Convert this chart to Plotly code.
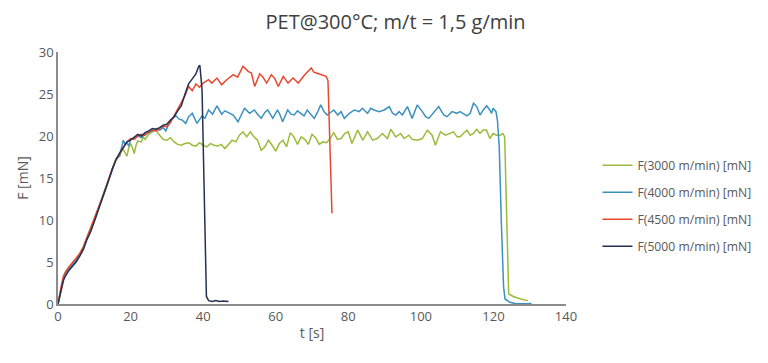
import plotly.graph_objects as go

# ---- data ----
t_3000 = [0, 0.5, 1, 1.5, 2, 3, 4, 5, 6, 7, 8, 9, 10, 11, 12, 13, 14, 15, 16,
          17, 17.5, 18, 18.5, 19, 19.5, 20, 20.5, 21, 21.5, 22, 23, 23.5, 24, 25, 26, 27, 28, 29, 30,
          31, 32, 33, 34, 35, 36, 37, 38, 39, 40, 41, 42, 43, 44, 45, 46, 47, 48, 49, 50,
          51, 52, 53, 54, 55, 56, 57, 58, 59, 60, 61, 62, 63, 64, 65, 66, 67, 68, 69, 70,
          71, 72, 73, 74, 75, 76, 77, 78, 79, 80, 81, 82, 82.6, 84, 85.3, 86.7, 88, 89.4, 90.8,
          91.7, 93.1, 94.4, 95.4, 96.7, 97.6, 99, 100.4, 101.8, 103.1, 104, 105.4, 106.8, 108.1,
          109, 110, 110.8, 111.7, 112.7, 113.6, 114.5, 115.4, 116.3, 117.2, 118.1, 119, 119.9,
          120.9, 121.8, 122.6, 123.1, 124.2, 125.5, 127.5, 129.5]
F_3000 = [0, 1.1, 2.2, 3.1, 3.6, 4.2, 4.8, 5.3, 6.0, 6.8, 7.9, 8.9, 10.1, 11.3, 12.5, 13.7, 14.9, 16.2, 17.3,
          17.6, 18.2, 18.4, 17.9, 17.6, 18.6, 19.1, 18.6, 17.9, 18.9, 19.4, 19.3, 19.9, 19.6, 20.2, 20.5, 20.7, 20.1, 19.6, 19.5,
          19.8, 19.3, 19.0, 18.9, 19.1, 19.2, 18.9, 18.8, 19.2, 18.9, 18.7, 19.1, 18.9, 18.8, 19.0, 18.5, 19.0, 19.5, 19.3, 20.1,
          20.5, 19.9, 20.5, 19.9, 19.5, 18.3, 18.7, 19.5, 18.9, 18.2, 19.1, 19.5, 18.7, 20.4, 19.9, 19.0, 19.9, 19.6, 19.0, 20.2,
          19.8, 19.0, 19.3, 19.2, 19.7, 20.4, 19.6, 19.7, 20.3, 20.5, 19.1, 20.0, 20.7, 19.5, 20.5, 19.5, 19.7, 20.3, 19.7,
          20.8, 19.9, 20.3, 19.7, 20.1, 19.6, 19.5, 19.7, 20.7, 20.1, 18.9, 20.5, 20.1, 20.3,
          20.5, 19.9, 19.9, 20.3, 20.7, 20.1, 20.3, 20.8, 20.3, 20.7, 20.7, 19.7, 20.3,
          20.1, 20.1, 20.3, 19.9, 1.2, 0.9, 0.6, 0.4]

t_4000 = [0, 0.5, 1, 1.5, 2, 3, 4, 5, 6, 7, 8, 9, 10, 11, 12, 13, 14, 15, 16,
          17, 17.5, 18, 18.5, 19, 19.5, 20, 21, 22, 23, 24, 25, 26, 27, 28, 29, 29.7, 30.5, 31.5, 32.5,
          33.4, 34.2, 35.2, 36, 37, 38.3, 39.7, 40.5, 41.5, 42.6, 43.8, 45.1, 46, 46.9, 48.3, 49.6,
          50.5, 51.4, 52.8, 54.1, 55, 56, 57, 57.8, 59.2, 60.5, 61.2, 61.9, 63.3, 64.2, 65.1, 66,
          66.9, 67.8, 68.7, 70.6, 71.5, 72.4, 73.3, 74.2, 75.1, 76, 77.1, 78, 78.9, 80.3, 81.7, 83,
          83.9, 85.3, 86.2, 87.1, 88.5, 89.9, 91.3, 92.2, 93.1, 94, 94.9, 96.3, 97.6, 99, 100.4,
          101.3, 102.2, 103.6, 104.9, 106.3, 107.2, 108.6, 109.9, 110.8, 111.7, 112.7, 113.6,
          114.5, 115.4, 116.3, 117.2, 118.1, 119, 119.5, 119.9, 120.7, 121.1, 121.6, 122.2, 122.8,
          123.2, 124.5, 126, 127.3, 129, 130.5]
F_4000 = [0, 1.0, 2.1, 3.0, 3.6, 4.2, 4.7, 5.2, 5.9, 6.7, 7.8, 8.8, 10.0, 11.2, 12.4, 13.6, 14.8, 16.1, 17.2,
          17.7, 18.6, 19.5, 19.0, 19.2, 18.8, 19.6, 19.8, 20.0, 19.8, 20.2, 20.4, 20.6, 20.8, 20.7, 21.0, 20.6, 21.4, 22.1, 22.4,
          22.0, 21.9, 21.5, 22.3, 22.7, 21.5, 22.4, 22.1, 23.1, 22.6, 23.6, 22.6, 23.0, 22.8, 22.5, 21.7,
          22.6, 23.3, 22.7, 23.1, 22.6, 22.1, 22.8, 23.1, 22.1, 23.1, 22.5, 21.7, 23.1, 22.6, 22.5, 23.0,
          22.7, 22.4, 23.1, 22.1, 22.8, 23.7, 22.9, 22.5, 22.8, 23.1, 22.5, 22.9, 22.1, 22.7, 23.1, 22.9,
          23.3, 22.7, 23.3, 23.1, 22.9, 23.1, 23.5, 22.7, 22.5, 22.9, 22.5, 23.5, 22.1, 23.7, 22.9,
          22.3, 22.1, 22.9, 23.5, 22.5, 22.3, 22.9, 22.7, 22.9, 22.7, 22.4, 22.7,
          23.9, 23.5, 22.5, 23.1, 23.6, 23.1, 22.7, 23.3, 22.9, 21.9, 18.7, 9.5, 2.0,
          0.6, 0.2, 0.05, 0.0, 0.02, 0.05]

t_4500 = [0, 0.5, 1, 1.5, 2, 3, 4, 5, 6, 7, 8, 9, 10, 11, 12, 13, 14, 15, 16,
          17, 18, 19, 20, 21, 22, 23, 24, 25, 26, 27, 28, 29, 30, 31, 32, 33, 34, 35, 36, 37, 38, 39, 40,
          41.5, 42.4, 43.8, 45.1, 46.5, 48.3, 49.5, 51, 52.4, 53.3, 54.2, 55.6, 56.5, 57.5, 58.8, 59.8,
          60.7, 62.1, 63.4, 64.8, 66.2, 67.1, 68, 69.8, 70.5, 71.2, 72.5, 73.9, 74.4, 75.5]
F_4500 = [0, 1.3, 2.4, 3.3, 3.8, 4.4, 4.9, 5.4, 6.0, 6.8, 7.9, 8.9, 10.0, 11.2, 12.4, 13.6, 14.9, 16.2, 17.2,
          17.9, 18.7, 19.3, 19.7, 19.6, 20.0, 20.2, 20.1, 20.5, 20.7, 20.6, 20.9, 21.2, 21.1, 21.6, 22.4, 23.3, 24.0, 24.8, 25.9, 25.4, 26.2, 25.8, 26.3,
          26.7, 26.3, 26.9, 26.1, 26.7, 27.3, 27.0, 28.3, 27.7, 27.5, 25.9, 27.4, 27.0, 26.3, 27.3, 26.8,
          25.9, 27.1, 26.3, 26.9, 26.3, 26.8, 27.3, 28.1, 27.6, 27.5, 27.3, 27.1, 26.6, 10.8]

t_5000 = [0, 0.5, 1, 1.5, 2, 3, 4, 5, 6, 7, 8, 9, 10, 11, 12, 13, 14, 15, 16,
          17, 18, 19, 20, 21, 22, 23, 24, 25, 26, 27, 28, 29, 30, 31, 32, 33, 34, 35, 36, 37, 38,
          38.8, 39.1, 39.7, 40.4, 40.9, 41.5, 42.5, 43.5, 44.5, 45.5, 46.5, 47]
F_5000 = [0, 0.9, 1.9, 2.8, 3.3, 4.0, 4.5, 5.0, 5.7, 6.5, 7.7, 8.6, 9.8, 11.0, 12.3, 13.5, 14.8, 16.1, 17.2,
          18.0, 18.6, 19.3, 19.5, 19.9, 20.2, 20.0, 20.4, 20.6, 20.9, 20.8, 21.0, 21.3, 21.4, 21.9, 22.3, 23.0, 23.6, 25.0, 26.2, 26.8, 27.4,
          28.3, 28.4, 25.5, 9.2, 0.9, 0.4, 0.3, 0.4, 0.3, 0.35, 0.3, 0.3]

series = [
    ("F(3000 m/min) [mN]", t_3000, F_3000, "#9BBB3C"),
    ("F(4000 m/min) [mN]", t_4000, F_4000, "#3C91BE"),
    ("F(4500 m/min) [mN]", t_4500, F_4500, "#E8472F"),
    ("F(5000 m/min) [mN]", t_5000, F_5000, "#243152"),
]

title_text = "PET@300°C; m/t = 1,5 g/min"
x_title = "t [s]"
y_title = "F [mN]"
x_ticks = [0, 20, 40, 60, 80, 100, 120, 140]
y_ticks = [0, 5, 10, 15, 20, 25, 30]

fig = go.Figure()
for i, (name, t, f, col) in enumerate(series):
    fig.add_trace(go.Scatter(x=t, y=f, mode="lines", name=name,
                             legendgroup="g%d" % i,
                             line=dict(color=col, width=1.5)))

font_family = "Open Sans"
fig.update_layout(
    width=760, height=355,
    paper_bgcolor="white", plot_bgcolor="white",
    margin=dict(l=50, r=198, t=44, b=59),
    title=dict(text=title_text, x=0.51, xanchor="center", y=0.962, yanchor="middle",
               font=dict(family=font_family, size=20, color="#404040")),
    font=dict(family=font_family, size=12, color="#595959"),
    showlegend=True,
    legend=dict(x=1.062, xanchor="left", y=0.39, yanchor="middle",
                font=dict(family=font_family, size=12.2, color="#595959"),
                traceorder="grouped", tracegroupgap=8,
                itemwidth=30, bgcolor="rgba(0,0,0,0)"),
    xaxis=dict(range=[0, 140], tickvals=x_ticks, showgrid=False, zeroline=False,
               showline=True, linecolor="#8C8C8C", linewidth=1.5, ticks="",
               automargin=False,
               title=dict(text=x_title, standoff=4, font=dict(size=14, color="#595959")),
               tickfont=dict(size=13, color="#595959")),
    yaxis=dict(range=[0, 30], tickvals=y_ticks, showgrid=False, zeroline=False,
               showline=True, linecolor="#8C8C8C", linewidth=1.5, ticks="",
               automargin=False,
               title=dict(text=y_title, standoff=7, font=dict(size=14, color="#595959")),
               tickfont=dict(size=13, color="#595959")),
)

fig.write_html("out.html")
